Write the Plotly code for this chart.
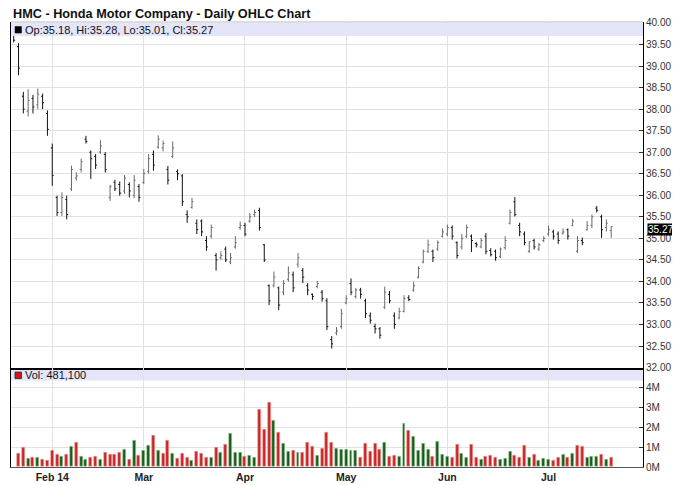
import plotly.graph_objects as go

# Trading-day index (0 = 22 Jan 2014 ... 124 = 21 Jul 2014)
opens = [39.80, 39.45, 38.30, 37.95, 38.25, 38.10, 38.30, 37.90, 37.10, 35.95,
         35.60, 35.90, 36.15, 36.40, 36.60, 37.30, 37.00, 36.90, 37.00, 36.95,
         35.95, 36.30, 36.25, 36.10, 36.25, 36.00, 36.20, 36.30, 36.55, 36.95,
         37.12, 37.10, 36.60, 36.90, 36.55, 36.45, 35.55, 35.72, 35.35, 35.40,
         34.95, 35.05, 34.60, 34.55, 34.75, 34.45, 34.80, 35.25, 35.30, 35.40,
         35.55, 35.65, 34.85, 33.90, 33.90, 33.85, 33.75, 34.05, 34.15, 34.40,
         34.25, 33.90, 33.70, 33.88, 33.75, 33.55, 32.65, 32.80, 32.95, 33.50,
         33.95, 33.65, 33.80, 33.55, 33.20, 32.95, 32.90, 33.40, 33.70, 33.20,
         33.15, 33.30, 33.62, 33.80, 34.10, 34.45, 34.70, 34.70, 34.75, 35.05,
         35.10, 35.25, 34.90, 34.80, 35.05, 35.05, 34.88, 34.80, 35.05, 34.72,
         34.70, 34.58, 34.78, 35.35, 35.85, 35.30, 35.10, 34.70, 34.95, 34.75,
         34.95, 35.10, 35.15, 35.10, 35.12, 35.20, 35.30, 34.70, 34.95, 35.20,
         35.30, 35.70, 35.50, 35.25, 35.18]
highs = [39.90, 39.53, 38.40, 38.46, 38.33, 38.48, 38.36, 37.97, 37.20, 35.99,
         36.07, 35.99, 36.69, 36.53, 36.85, 37.38, 37.04, 36.96, 37.28, 37.00,
         36.24, 36.36, 36.32, 36.47, 36.30, 36.47, 36.26, 36.61, 36.96, 37.04,
         37.39, 37.27, 36.68, 37.25, 36.60, 36.49, 35.65, 35.94, 35.44, 35.44,
         35.05, 35.32, 34.66, 34.70, 34.81, 34.66, 35.05, 35.39, 35.36, 35.59,
         35.67, 35.71, 34.87, 33.93, 34.23, 33.88, 34.03, 34.35, 34.23, 34.66,
         34.31, 33.96, 33.72, 34.01, 33.80, 33.61, 32.73, 32.94, 33.36, 33.68,
         34.07, 33.85, 33.85, 33.60, 33.28, 33.02, 32.94, 33.88, 33.78, 33.28,
         33.39, 33.68, 33.68, 33.99, 34.35, 34.74, 34.97, 34.74, 34.95, 35.23,
         35.32, 35.30, 34.93, 35.10, 35.32, 35.09, 34.91, 35.01, 35.12, 34.77,
         34.74, 34.79, 35.05, 35.67, 35.96, 35.36, 35.16, 34.93, 34.99, 34.89,
         35.05, 35.30, 35.20, 35.16, 35.23, 35.23, 35.45, 35.05, 35.02, 35.40,
         35.55, 35.75, 35.55, 35.44, 35.28]
lows = [39.55, 38.79, 37.90, 37.83, 37.90, 38.00, 38.00, 37.38, 36.22, 35.52,
        35.52, 35.44, 36.10, 36.34, 36.53, 37.20, 36.38, 36.61, 36.96, 36.53,
        35.87, 36.10, 35.99, 36.03, 35.95, 35.93, 35.85, 36.26, 36.50, 36.57,
        37.08, 37.02, 36.25, 36.86, 36.35, 35.75, 35.36, 35.69, 35.10, 35.05,
        34.71, 35.00, 34.25, 34.50, 34.45, 34.40, 34.76, 35.20, 35.05, 35.36,
        35.49, 35.18, 34.45, 33.45, 33.86, 33.33, 33.68, 33.99, 33.75, 34.32,
        33.96, 33.68, 33.57, 33.84, 33.53, 32.87, 32.44, 32.75, 32.90, 33.47,
        33.68, 33.60, 33.60, 33.15, 33.02, 32.79, 32.67, 33.36, 33.49, 32.90,
        33.12, 33.28, 33.54, 33.76, 34.07, 34.42, 34.66, 34.45, 34.71, 35.02,
        35.05, 34.97, 34.53, 34.74, 35.01, 34.68, 34.79, 34.77, 34.63, 34.58,
        34.48, 34.54, 34.74, 35.32, 35.51, 35.05, 34.84, 34.66, 34.74, 34.71,
        34.91, 35.05, 34.97, 34.87, 35.09, 34.97, 35.28, 34.66, 34.84, 35.18,
        35.24, 35.60, 35.01, 35.16, 35.01]
closes = [39.60, 38.95, 38.00, 38.20, 38.05, 38.35, 38.15, 37.53, 36.46, 35.60,
          35.95, 35.55, 36.60, 36.45, 36.78, 37.25, 36.85, 36.70, 37.15, 36.60,
          36.20, 36.15, 36.05, 36.40, 36.10, 36.35, 35.95, 36.50, 36.85, 36.70,
          37.30, 37.20, 36.35, 37.10, 36.50, 35.85, 35.50, 35.85, 35.20, 35.15,
          34.80, 35.25, 34.50, 34.60, 34.50, 34.55, 34.90, 35.30, 35.10, 35.50,
          35.60, 35.25, 34.50, 33.55, 34.10, 33.45, 33.95, 34.20, 33.85, 34.55,
          34.10, 33.80, 33.65, 33.95, 33.60, 32.95, 32.55, 32.85, 33.25, 33.60,
          33.75, 33.80, 33.70, 33.25, 33.10, 32.90, 32.75, 33.75, 33.55, 33.00,
          33.30, 33.60, 33.58, 33.90, 34.30, 34.70, 34.85, 34.55, 34.90, 35.15,
          35.25, 35.05, 34.60, 35.00, 35.25, 34.95, 34.85, 34.95, 34.70, 34.62,
          34.55, 34.75, 34.95, 35.60, 35.55, 35.15, 34.90, 34.92, 34.80, 34.85,
          35.00, 35.20, 35.05, 34.95, 35.15, 35.05, 35.40, 34.95, 34.90, 35.30,
          35.50, 35.65, 35.20, 35.35, 35.27]
# Volume in millions of shares
volumes = [None, 0.68, 0.96, 0.42, 0.47, 0.47, 0.37, 0.32, 0.81, 0.62,
           0.51, 0.61, 1.01, 1.22, 0.51, 0.37, 0.47, 0.52, 0.37, 0.71,
           0.61, 0.61, 0.71, 0.89, 0.37, 1.32, 0.56, 0.81, 1.06, 1.57,
           0.81, 0.66, 1.32, 0.66, 0.42, 0.66, 0.47, 0.32, 0.76, 0.66,
           0.47, 0.47, 0.96, 0.73, 1.11, 1.67, 0.73, 0.73, 0.51, 0.56,
           0.47, 2.90, 1.86, 3.24, 2.35, 1.72, 1.16, 0.76, 0.81, 0.71,
           0.71, 1.22, 1.01, 0.56, 0.91, 1.72, 1.22, 0.91, 0.89, 0.86,
           0.81, 0.81, 0.47, 1.16, 0.76, 1.16, 0.86, 1.22, 0.51, 0.56,
           0.51, 2.21, 1.81, 1.52, 0.81, 1.16, 0.86, 0.51, 1.27, 0.61,
           0.51, 0.47, 1.11, 0.66, 0.47, 1.11, 0.47, 0.37, 0.51, 0.56,
           0.47, 0.37, 0.42, 0.76, 0.56, 0.47, 1.06, 0.47, 0.61, 0.32,
           0.42, 0.37, 0.32, 0.47, 0.61, 0.47, 0.66, 1.06, 1.01, 0.47,
           0.51, 0.51, 0.61, 0.37, 0.4811]

month_ticks = [8, 27, 48, 69, 90, 111]
month_labels = ["Feb 14", "Mar", "Apr", "May", "Jun", "Jul"]
price_ticks = [32.0, 32.5, 33.0, 33.5, 34.0, 34.5, 35.0, 35.5, 36.0, 36.5,
               37.0, 37.5, 38.0, 38.5, 39.0, 39.5, 40.0]
vol_ticks = [0, 1, 2, 3, 4]
vol_labels = ["0M", "1M", "2M", "3M", "4M"]

x = list(range(len(closes)))
vol_colors = []
vol_edges = []
for i, c in enumerate(closes):
    prev = closes[i - 1] if i > 0 else opens[0]
    if c < prev:
        vol_colors.append("#c62828")
        vol_edges.append("#f3a3a3")
    else:
        vol_colors.append("#1d5a1d")
        vol_edges.append("#a8d8a8")

FONT = "Liberation Sans, Arial, sans-serif"
fig = go.Figure()
fig.add_trace(go.Ohlc(
    x=x, open=opens, high=highs, low=lows, close=closes,
    increasing=dict(line=dict(color="#6a6a6a", width=1)),
    decreasing=dict(line=dict(color="#111111", width=1)),
    tickwidth=0.3, xaxis="x", yaxis="y", showlegend=False, hoverinfo="skip"))
fig.add_trace(go.Bar(
    x=x, y=volumes, width=0.62,
    marker=dict(color=vol_colors, line=dict(color=vol_edges, width=0.6)),
    xaxis="x2", yaxis="y2", showlegend=False, hoverinfo="skip"))

xr = [-0.56, 130.6]
grid = "#e2e2e2"
# page body has an 8px margin: figure 672x477 placed at (8,8)
fig.update_layout(
    width=672, height=477,
    margin=dict(l=2, r=37, t=14, b=12),
    paper_bgcolor="white", plot_bgcolor="white",
    font=dict(family=FONT, size=10, color="#222"),
    bargap=0,
    xaxis=dict(domain=[0, 1], range=xr, anchor="y", showticklabels=False,
               tickvals=month_ticks, showgrid=True, gridcolor=grid, gridwidth=1,
               rangeslider=dict(visible=False), showline=True, linecolor="#000",
               linewidth=2, ticks="", zeroline=False),
    yaxis=dict(domain=[0.2235, 1], range=[32, 40.023], side="right",
               tickvals=price_ticks, ticktext=["%.2f" % v for v in price_ticks],
               showgrid=True, gridcolor=grid, gridwidth=1,
               showline=True, mirror=True, linecolor="#000", linewidth=1,
               ticks="inside", ticklen=4, tickcolor="#333",
               tickfont=dict(size=10, color="#333"), zeroline=False),
    xaxis2=dict(domain=[0, 1], range=xr, anchor="y2", matches="x",
                tickvals=month_ticks, ticktext=month_labels,
                tickfont=dict(size=10.5, color="#222", family=FONT, weight="bold"),
                showgrid=True, gridcolor=grid, gridwidth=1,
                showline=True, linecolor="#555", linewidth=1, ticks="", zeroline=False),
    yaxis2=dict(domain=[0, 0.2235], range=[0, 5.0], side="right",
                tickvals=vol_ticks, ticktext=vol_labels,
                showgrid=True, gridcolor=grid, gridwidth=1,
                showline=True, mirror=True, linecolor="#000", linewidth=1,
                ticks="inside", ticklen=4, tickcolor="#333",
                tickfont=dict(size=10, color="#333"), zeroline=False),
)

def py(px):
    return (465 - px) / 443.0

def pxx(px):
    return (px - 10) / 633.0

band = "#e4e4fb"
shapes = [
    dict(type="rect", xref="paper", yref="paper", x0=0, x1=1, y0=py(36), y1=py(23),
         fillcolor=band, line=dict(width=0), layer="above"),
    dict(type="rect", xref="paper", yref="paper", x0=0, x1=1, y0=py(379), y1=py(368),
         fillcolor=band, line=dict(width=0), layer="below"),
    dict(type="line", xref="paper", yref="paper", x0=0, x1=1, y0=1, y1=1,
         line=dict(color="#bbbbbb", width=1)),
    dict(type="rect", xref="paper", yref="paper", x0=pxx(14), x1=pxx(20.5),
         y0=py(33), y1=py(26.5), fillcolor="#000", line=dict(color="#000", width=0.5),
         layer="above"),
    dict(type="rect", xref="paper", yref="paper", x0=pxx(14), x1=pxx(20.5),
         y0=py(377), y1=py(370.5), fillcolor="#d01818", line=dict(color="#222", width=0.8),
         layer="above"),
]
fig.update_layout(shapes=shapes)

last = opens[-1], highs[-1], lows[-1], closes[-1]
annotations = [
    dict(text="HMC - Honda Motor Company - Daily OHLC Chart", xref="paper", yref="paper",
         x=0, y=py(13.6), xanchor="left", yanchor="middle", showarrow=False,
         font=dict(family=FONT, size=12.7, color="#111", weight="bold")),
    dict(text="Op:%.2f, Hi:%.2f, Lo:%.2f, Cl:%.2f" % last, xref="paper", yref="paper",
         x=pxx(22.5), y=py(29.5), xanchor="left", yanchor="middle", showarrow=False,
         font=dict(family=FONT, size=11, color="#111")),
    dict(text="Vol: {:,}".format(int(round(volumes[-1] * 1e6, -2))), xref="paper", yref="paper",
         x=pxx(22.5), y=py(373.5), xanchor="left", yanchor="middle", showarrow=False,
         font=dict(family=FONT, size=11, color="#111")),
    dict(text="%.2f" % closes[-1], xref="paper", yref="y", x=1, y=closes[-1],
         xanchor="left", yanchor="middle", xshift=4, yshift=-3, showarrow=False,
         bgcolor="#000", borderpad=0, font=dict(family=FONT, size=10, color="#fff")),
]
fig.update_layout(annotations=annotations)

fig.write_html("out.html", config={"displayModeBar": False})
